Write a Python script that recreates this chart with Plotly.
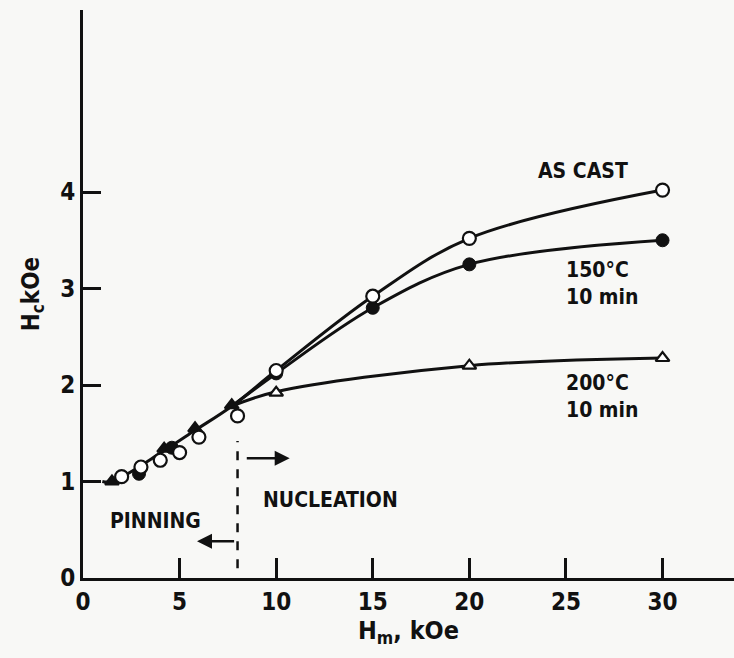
import plotly.graph_objects as go

# Data (markers)
cast_x = [2, 3, 4, 5, 6, 8, 10, 15, 20, 30]
cast_y = [1.05, 1.15, 1.22, 1.30, 1.46, 1.68, 2.15, 2.92, 3.52, 4.02]

t150_x = [2.9, 4.6, 10, 15, 20, 30]
t150_y = [1.08, 1.35, 2.12, 2.80, 3.25, 3.50]

t200_x = [1.5, 4.2, 5.8, 7.7, 10, 20, 30]
t200_y = [1.00, 1.34, 1.55, 1.79, 1.92, 2.20, 2.28]
t200_filled = [True, True, True, True, False, False, False]

# Hand-drawn curves
cast_curve_x = [1.0, 1.5, 4.2, 5.8, 7.7, 10, 15, 20, 30]
cast_curve_y = [1.0, 1.0, 1.32, 1.53, 1.78, 2.15, 2.92, 3.52, 4.02]
t150_curve_x = [7.7, 10, 15, 20, 30]
t150_curve_y = [1.78, 2.12, 2.80, 3.25, 3.50]
t200_curve_x = [7.7, 10, 20, 30]
t200_curve_y = [1.78, 1.93, 2.20, 2.28]

x_ticks = [0, 5, 10, 15, 20, 25, 30]
y_ticks = [0, 1, 2, 3, 4]
boundary = 8

FONT = "DejaVu Sans Condensed, DejaVu Sans, sans-serif"
INK = "#111111"
BG = "#f8f8f6"

fig = go.Figure()

line_style = dict(color=INK, width=3, shape="spline", smoothing=1.0)
for cx, cy in [(cast_curve_x, cast_curve_y), (t150_curve_x, t150_curve_y),
               (t200_curve_x, t200_curve_y)]:
    fig.add_trace(go.Scatter(x=cx, y=cy, mode="lines", line=line_style,
                             showlegend=False, hoverinfo="skip"))

fig.add_trace(go.Scatter(x=t200_x, y=t200_y, mode="markers",
                         marker=dict(symbol="triangle-up", size=12,
                                     color=[INK if f else "white" for f in t200_filled],
                                     line=dict(color=INK, width=2.2)),
                         showlegend=False))
fig.add_trace(go.Scatter(x=t150_x, y=t150_y, mode="markers",
                         marker=dict(symbol="circle", size=13, color=INK,
                                     line=dict(color=INK, width=1)),
                         showlegend=False))
fig.add_trace(go.Scatter(x=cast_x, y=cast_y, mode="markers",
                         marker=dict(symbol="circle", size=13, color="white",
                                     line=dict(color=INK, width=2.2)),
                         showlegend=False))

# dashed regime boundary
fig.add_shape(type="line", x0=boundary, x1=boundary, y0=0.1, y1=1.42,
              xref="x", yref="y", line=dict(color=INK, width=2.5, dash="dash"))

# arrows
fig.add_annotation(x=10.7, y=1.24, ax=8.4, ay=1.24, xref="x", yref="y",
                   axref="x", ayref="y", showarrow=True, arrowhead=2,
                   arrowsize=1.2, arrowwidth=2.5, arrowcolor=INK, text="")
fig.add_annotation(x=5.9, y=0.38, ax=7.9, ay=0.38, xref="x", yref="y",
                   axref="x", ayref="y", showarrow=True, arrowhead=2,
                   arrowsize=1.2, arrowwidth=2.5, arrowcolor=INK, text="")

lab = dict(family=FONT, size=21, color=INK)
fig.add_annotation(x=12.8, y=0.81, text="<b>NUCLEATION</b>", showarrow=False, font=lab)
fig.add_annotation(x=3.73, y=0.59, text="<b>PINNING</b>", showarrow=False, font=lab)
fig.add_annotation(x=25.9, y=4.22, text="<b>AS CAST</b>", showarrow=False, font=lab)
fig.add_annotation(x=24.9, y=3.05, text="<b>150°C<br>10 min</b>", showarrow=False,
                   font=lab, align="left", xanchor="left")
fig.add_annotation(x=24.9, y=1.88, text="<b>200°C<br>10 min</b>", showarrow=False,
                   font=lab, align="left", xanchor="left")

fig.update_xaxes(range=[0, 33.7], tickvals=x_ticks,
                 ticktext=[f"<b>{v}</b>" for v in x_ticks],
                 ticks="inside", ticklen=20,
                 tickwidth=2.5, tickcolor=INK, showline=True, linecolor=INK,
                 linewidth=3, showgrid=False, zeroline=False,
                 tickfont=dict(family=FONT, size=24, color=INK),
                 title=dict(text="<b>H<sub>m</sub>, kOe</b>", standoff=4,
                            font=dict(family=FONT, size=25, color=INK)))
fig.update_yaxes(range=[0, 5.886], tickvals=y_ticks,
                 ticktext=[f"<b>{v}</b>" for v in y_ticks],
                 ticks="inside", ticklen=18,
                 tickwidth=2.5, tickcolor=INK, showline=True, linecolor=INK,
                 linewidth=3, showgrid=False, zeroline=False,
                 tickfont=dict(family=FONT, size=24, color=INK),
                 title=dict(text="<b>H<sub>c</sub>kOe</b>", standoff=14,
                            font=dict(family=FONT, size=24, color=INK)))

fig.update_layout(width=734, height=658, margin=dict(l=83, r=0, t=10, b=80),
                  paper_bgcolor=BG, plot_bgcolor=BG)

fig.write_html("out.html")
